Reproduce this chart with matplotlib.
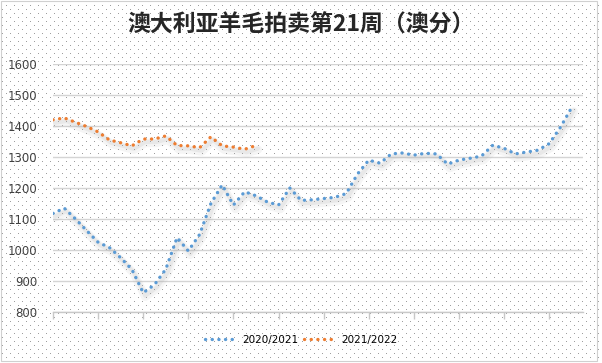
import numpy as np
import matplotlib
matplotlib.use("Agg")
import matplotlib.pyplot as plt
import matplotlib.transforms as mtransforms
from matplotlib.patches import Rectangle
from matplotlib.lines import Line2D

plt.rcParams['font.family'] = ['Noto Sans CJK SC', 'DejaVu Sans']

title = "澳大利亚羊毛拍卖第21周（澳分）"
series_names = ["2020/2021", "2021/2022"]

blue_values = [1118, 1135, 1100, 1062, 1025, 1008, 975, 937, 862, 888,
               938, 1040, 997, 1050, 1150, 1210, 1145, 1188, 1175, 1155,
               1145, 1200, 1160, 1162, 1166, 1170, 1182, 1245, 1290, 1280,
               1310, 1313, 1306, 1312, 1310, 1277, 1290, 1296, 1303, 1338,
               1328, 1310, 1316, 1322, 1343, 1396, 1460]
orange_values = [1420, 1426, 1412, 1398, 1381, 1355, 1346, 1336, 1358, 1358,
                 1368, 1337, 1336, 1330, 1365, 1336, 1332, 1325, 1337]

y_ticks = [800, 900, 1000, 1100, 1200, 1300, 1400, 1500, 1600]
n_categories = 48
tick_step = 4

blue = '#5B9BD5'
orange = '#ED7D31'

W, H = 602, 363
fig = plt.figure(figsize=(W / 100, H / 100), dpi=100)

# dotted pattern background
bg = np.ones((H, W, 3))
for r in range(1, H, 4):
    off = 2 if (r // 4) % 2 == 0 else 6
    bg[r, off::8, :] = 0.62
im = fig.figimage(bg, 0, 0, zorder=-10)
fig.patch.set_alpha(0)

fig.add_artist(Rectangle((0.5 / W, 2.5 / H), 596 / W, 359.5 / H, transform=fig.transFigure,
                         fill=False, edgecolor='#d0d0d0', linewidth=0.8, zorder=1))

ax = fig.add_axes([53 / W, 51 / H, 530 / W, 248 / H])
ax.set_zorder(5)
ax.patch.set_alpha(0)
ax.set_xlim(0, n_categories - 1)
ax.set_ylim(800, 1600)
ax.set_yticks(y_ticks)
ax.set_yticklabels([str(v) for v in y_ticks], fontsize=8.5, color='#404040',
                   family=['DejaVu Sans'])
ax.yaxis.grid(True, color='#d4d4d4', linewidth=1.0)
ax.set_axisbelow(True)
ax.tick_params(axis='y', length=0, pad=11)
ax.set_xticks(np.arange(0, n_categories, tick_step))
ax.set_xticklabels([])
ax.tick_params(axis='x', length=5, color='#c8c8c8', width=1.0, direction='out')
for s in ['left', 'right', 'top']:
    ax.spines[s].set_visible(False)
ax.spines['bottom'].set_color('#c8c8c8')
ax.spines['bottom'].set_linewidth(1.0)

xb = np.arange(len(blue_values))
xo = np.arange(len(orange_values))

shadow_tr = mtransforms.offset_copy(ax.transData, fig=fig, x=2, y=-4, units='dots')
shadow_tr2 = mtransforms.offset_copy(ax.transData, fig=fig, x=2, y=-3, units='dots')
for xs, ys in [(xb, blue_values), (xo, orange_values)]:
    ax.plot(xs, ys, color='#b0b0b0', lw=6, alpha=0.12, transform=shadow_tr,
            solid_capstyle='round', solid_joinstyle='round', zorder=2)
    ax.plot(xs, ys, color='#a0a0a0', lw=3, alpha=0.15, transform=shadow_tr2,
            solid_capstyle='round', solid_joinstyle='round', zorder=2)

dash = (0, (0.05, 1.95))
ax.plot(xb, blue_values, color=blue, lw=2.4, linestyle=dash, dash_capstyle='round',
        zorder=3)
ax.plot(xo, orange_values, color=orange, lw=2.4, linestyle=dash, dash_capstyle='round',
        zorder=3)

fig.text(301 / W, 1 - 25 / H, title, ha='center', va='center', fontsize=16.5,
         fontweight='bold', color='#262626')

handles = [Line2D([], [], color=blue, lw=2.4, linestyle=dash, dash_capstyle='round'),
           Line2D([], [], color=orange, lw=2.4, linestyle=dash, dash_capstyle='round')]
fig.legend(handles, series_names, loc='center', bbox_to_anchor=(0.5, 23 / H),
           ncol=2, frameon=False, handlelength=3.2, handletextpad=0.4,
           columnspacing=0.5, prop={'family': ['DejaVu Sans'], 'size': 7.5})

fig.savefig('out.png', dpi=100)
